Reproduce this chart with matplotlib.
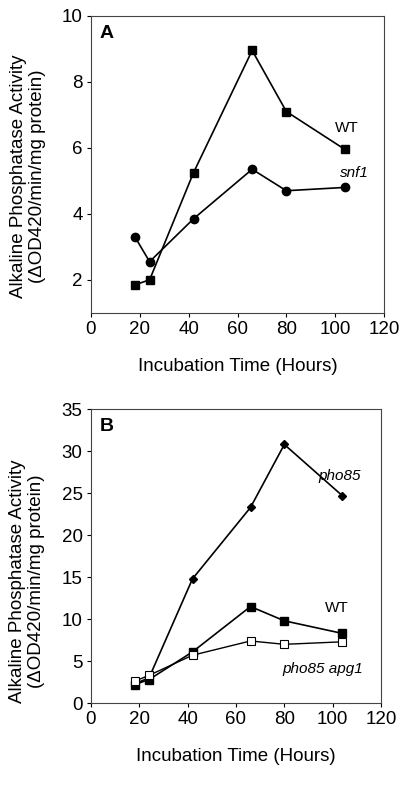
import numpy as np
import matplotlib.pyplot as plt

plt.rcParams['font.family'] = ['Liberation Sans', 'DejaVu Sans']

hours = [18, 24, 42, 66, 80, 104]

# panel A
wt_a = [1.85, 2.0, 5.25, 8.95, 7.1, 5.95]
snf1 = [3.3, 2.55, 3.85, 5.35, 4.7, 4.8]

# panel B
pho85 = [2.3, 3.0, 14.8, 23.3, 30.8, 24.7]
wt_b = [2.2, 2.8, 6.1, 11.5, 9.8, 8.3]
pho85_apg1 = [2.6, 3.3, 5.7, 7.4, 7.0, 7.3]

ylab = "Alkaline Phosphatase Activity\n(\u0394OD420/min/mg protein)"
fs = 13.5

fig = plt.figure(figsize=(4, 7.9), dpi=100)
axA = fig.add_axes([0.2275, 0.604, 0.7325, 0.376])
axB = fig.add_axes([0.2275, 0.110, 0.725, 0.372])

for ax in (axA, axB):
    for s in ax.spines.values():
        s.set_linewidth(0.8)
        s.set_color('#444444')
    ax.tick_params(direction='out', length=3, width=0.8, labelsize=fs, pad=3)
    ax.set_xlim(0, 120)
    ax.set_xticks([0, 20, 40, 60, 80, 100, 120])
    ax.set_xlabel("Incubation Time (Hours)", fontsize=fs, labelpad=14)
    ax.set_ylabel(ylab, fontsize=fs, linespacing=1.2)

axA.yaxis.set_label_coords(-0.152, 0.46)
axB.yaxis.set_label_coords(-0.157, 0.415)

axA.plot(hours, wt_a, color='black', lw=1.2, marker='s', ms=6, mfc='black', mec='black')
axA.plot(hours, snf1, color='black', lw=1.2, marker='o', ms=6, mfc='black', mec='black')
axA.set_ylim(1, 10)
axA.set_yticks([2, 4, 6, 8, 10])
axA.text(104.8, 6.6, "WT", fontsize=11, ha='center', va='center')
axA.text(108, 5.24, "snf1", fontsize=11, ha='center', va='center', style='italic')
axA.text(0.03, 0.97, "A", transform=axA.transAxes, fontsize=14, fontweight='bold', va='top')

axB.plot(hours, pho85, color='black', lw=1.2, marker='D', ms=4, mfc='black', mec='black')
axB.plot(hours, wt_b, color='black', lw=1.2, marker='s', ms=6, mfc='black', mec='black')
axB.plot(hours, pho85_apg1, color='black', lw=1.0, marker='s', ms=6, mfc='white', mec='black', mew=0.8)
axB.set_ylim(0, 35)
axB.set_yticks([0, 5, 10, 15, 20, 25, 30, 35])
axB.text(103, 27.1, "pho85", fontsize=11, ha='center', va='center', style='italic')
axB.text(101.8, 11.3, "WT", fontsize=11, ha='center', va='center')
axB.text(96, 4.05, "pho85 apg1", fontsize=11, ha='center', va='center', style='italic')
axB.text(0.03, 0.97, "B", transform=axB.transAxes, fontsize=14, fontweight='bold', va='top')

fig.savefig("out.png", dpi=100)
